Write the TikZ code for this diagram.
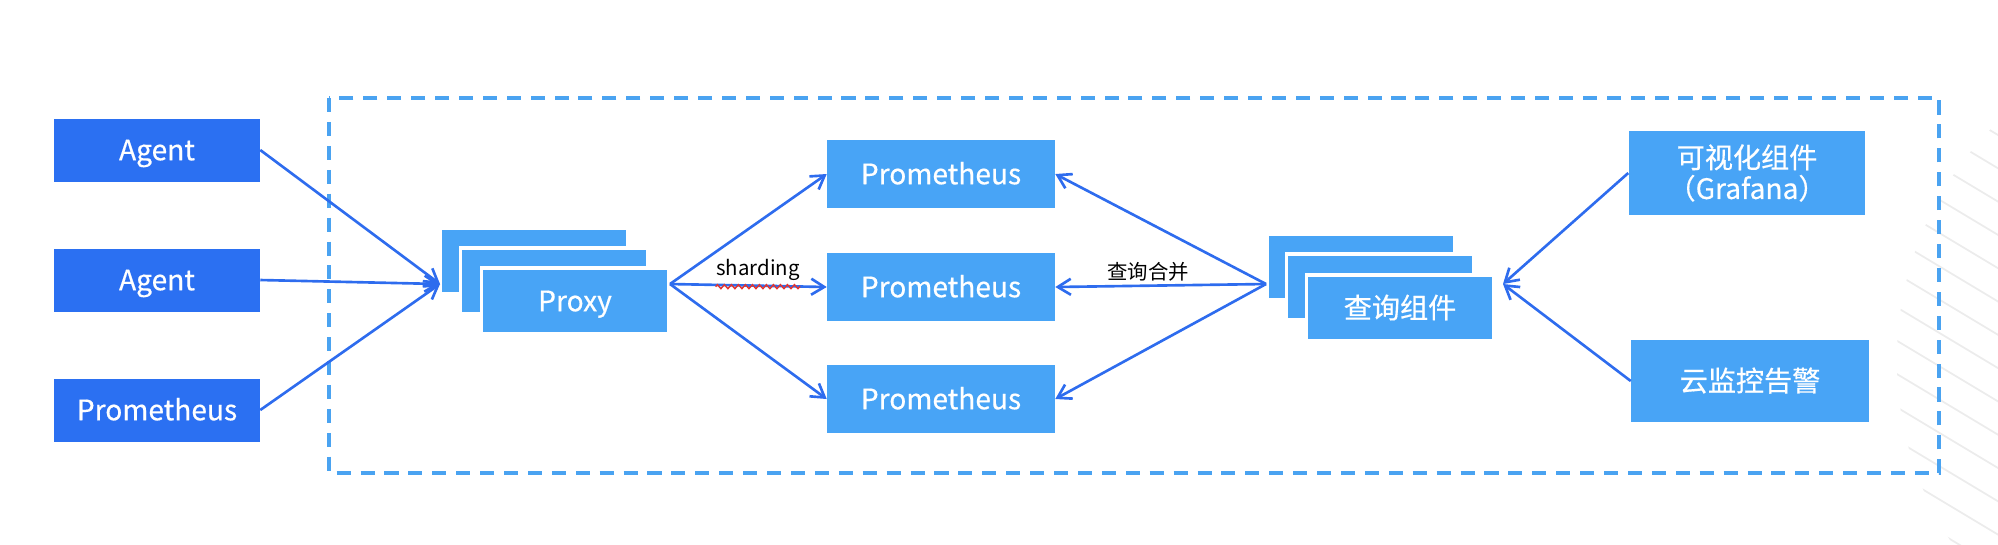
\documentclass[tikz,border=0pt]{standalone}
\usepackage{fontspec}
\newfontfamily\cjk{Noto Sans CJK SC}[FakeBold=0.5]
\newfontfamily\cjklight{Noto Sans CJK SC}
\usetikzlibrary{arrows.meta,decorations.pathmorphing}
\definecolor{agentblue}{RGB}{43,112,242}
\definecolor{boxblue}{RGB}{72,164,246}
\definecolor{arrowblue}{RGB}{46,108,238}
\definecolor{frameblue}{RGB}{74,163,241}
\definecolor{hatchgrey}{RGB}{236,236,236}
\definecolor{spellred}{RGB}{226,52,48}

\begin{document}
\begin{tikzpicture}[x=0.01cm,y=-0.01cm,
  agent/.style={fill=agentblue,text=white,minimum width=2.05cm,minimum height=0.63cm,inner sep=0pt,text height=7pt,text depth=1.2pt,font=\cjk\fontsize{8}{9}\selectfont},
  comp/.style={fill=boxblue,text=white,inner sep=0pt,align=center,font=\cjk\fontsize{8}{8.8}\selectfont},
  stack/.style={comp,draw=white,line width=1pt,minimum width=1.87cm,minimum height=0.66cm,text height=7pt,text depth=1.2pt},
  prom/.style={comp,minimum width=2.27cm,minimum height=0.68cm,text height=7pt,text depth=1.2pt},
  flow/.style={draw=arrowblue,line width=0.75pt,-{Straight Barb[length=1.3mm,width=1.6mm]}},
  frame/.style={draw=frameblue,line width=0.9pt,dash pattern=on 4pt off 2.8pt},
  hatch/.style={draw=hatchgrey,line width=0.5pt},
  tag/.style={inner sep=0pt,font=\cjklight\fontsize{5.8}{7}\selectfont}]
\useasboundingbox (0,0) rectangle (1998,544);

% faint hatching on the right
\begin{scope}
\clip (2228,360) circle (3.31cm);
\foreach \y in {135,168.3,...,600}
  \draw[hatch] (1800,{\y-118.8}) -- (2000,{\y+1.2});
\end{scope}

\draw[frame] (329,98) rectangle (1939,473);

% sources
\node[agent] (agent1) at (157,150) {Agent};
\node[agent] (agent2) at (157,280) {Agent};
\node[agent] (promsrc) at (157,410) {Prometheus};

% proxy stack
\node[stack] (proxy3) at (534,261) {};
\node[stack] (proxy2) at (554,281) {};
\node[stack] (proxy) at (575,301) {Proxy};
\coordinate (proxyin) at (440,284);
\coordinate (proxyout) at (670,284);

% prometheus shards
\node[prom] (promA) at (941,174) {Prometheus};
\node[prom] (promB) at (941,287) {Prometheus};
\node[prom] (promC) at (941,399) {Prometheus};

% query stack
\node[stack] (query3) at (1361,267) {};
\node[stack] (query2) at (1380,287) {};
\node[stack] (query) at (1400,308) {查询组件};
\coordinate (queryout) at (1266,284);
\coordinate (queryin) at (1503,284);

% consumers
\node[comp,minimum width=2.36cm,minimum height=0.83cm] (grafana) at (1747,173) {可视化组件\\（Grafana）};
\node[comp,minimum width=2.37cm,minimum height=0.82cm,text height=7pt,text depth=1.2pt] (alarm) at (1750,381) {云监控告警};

\draw[flow] (agent1.east) -- (proxyin);
\draw[flow] (agent2.east) -- (proxyin);
\draw[flow] (promsrc.east) -- (proxyin);

\draw[flow] (proxyout) -- (promA.west);
\draw[flow] (proxyout) -- (promB.west);
\draw[flow] (proxyout) -- (promC.west);

\draw[flow] (queryout) -- (promA.east);
\draw[flow] (queryout) -- (promB.east);
\draw[flow] (queryout) -- (promC.east);

\draw[flow] (grafana.west) -- (queryin);
\draw[flow] (alarm.west) -- (queryin);

\node[tag] (shardlbl) at (758,270) {sharding};
\draw[spellred,line width=0.4pt,decorate,decoration={zigzag,segment length=0.07cm,amplitude=0.02cm}]
  ([yshift=-1.5pt]shardlbl.south west) -- ([yshift=-1.5pt]shardlbl.south east);
\node[tag] (mergelbl) at (1148,272) {查询合并};
\end{tikzpicture}
\end{document}
